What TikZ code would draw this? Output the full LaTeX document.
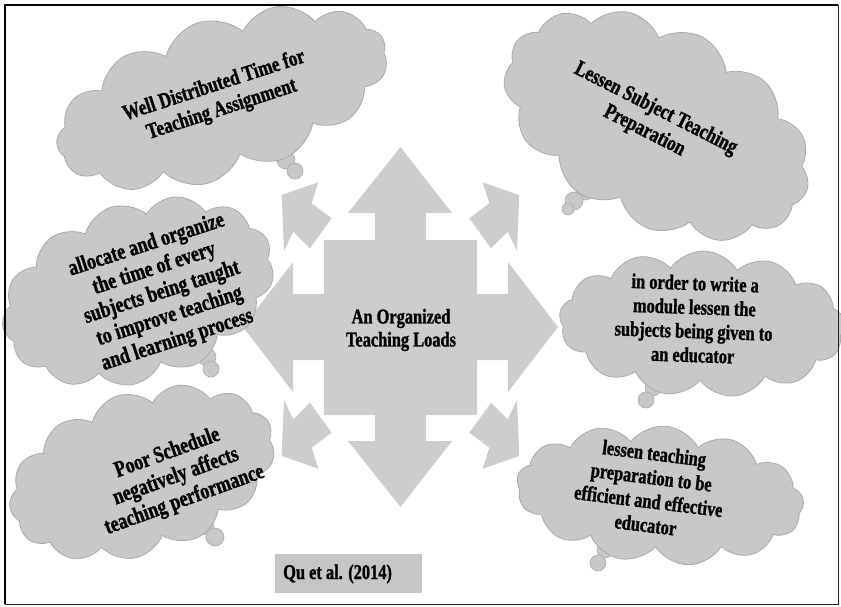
\documentclass[tikz,border=0pt]{standalone}
\usepackage{fontspec}
\newfontfamily\boldnarrow{Liberation Serif Bold}[FakeStretch=0.78, FakeBold=1.2]
\usetikzlibrary{shapes.symbols}
\definecolor{cloudfill}{HTML}{C8C8C8}
\definecolor{cloudedge}{HTML}{AAAAAA}
\definecolor{arrowfill}{HTML}{CDCDCD}
\definecolor{boxfill}{HTML}{C6C6C6}
\begin{document}
\begin{tikzpicture}[x=1pt,y=-1pt,
  bubble/.style={cloud, cloud puffs=13, cloud puff arc=115, cloud ignores aspect,
    fill=cloudfill, draw=cloudedge, line width=0.8pt, inner sep=0pt},
  bubbletext/.style={align=center, inner sep=0pt,
    font=\boldnarrow\fontsize{21}{24}\selectfont},
  puff/.style={fill=cloudfill, draw=cloudedge, line width=0.6pt}]
\useasboundingbox (0,0) rectangle (841,607);

% central quad arrow with the square hub
\fill[arrowfill] (400.5,147) -- (452,213) -- (426,213) -- (426,240) -- (477,240)
  -- (477,294) -- (508,294) -- (508,262) -- (558,327) -- (508,392) -- (508,360)
  -- (477,360) -- (477,415) -- (426,415) -- (426,441) -- (452,441) -- (400.5,507)
  -- (348,441) -- (375,441) -- (375,415) -- (324,415) -- (324,360) -- (293,360)
  -- (293,392) -- (243,327) -- (293,262) -- (293,294) -- (324,294) -- (324,240)
  -- (375,240) -- (375,213) -- (348,213) -- cycle;

% four diagonal arrows
\foreach \sx/\sy in {1/1,-1/1,1/-1,-1/-1}{
  \begin{scope}[shift={(400.5,325.5)}, xscale=\sx, yscale=\sy]
    \fill[arrowfill] (-118.8,-130.5) -- (-82.2,-143.2) -- (-88.8,-122.2)
      -- (-68.8,-107.2) -- (-90.5,-77.2) -- (-107.2,-93.8) -- (-116.5,-74.5) -- cycle;
  \end{scope}
}

\node[font=\boldnarrow\fontsize{21}{23}\selectfont, align=center] (hub) at (401,330)
  {An Organized\\Teaching Loads};

% thought-bubble tails
\draw[puff] (286,160) circle[radius=9];
\draw[puff] (295,171) circle[radius=8];
\draw[puff] (585,191) circle[radius=9];
\draw[puff] (574,201) circle[radius=9];
\draw[puff] (568,209) circle[radius=6];
\draw[puff] (207,357) circle[radius=9];
\draw[puff] (211,369) circle[radius=8];
\draw[puff] (653,388) circle[radius=8];
\draw[puff] (646,400) circle[radius=8];
\draw[puff] (206,527) circle[radius=8];
\draw[puff] (215,537) circle[radius=9];
\draw[puff] (605,550) circle[radius=8];
\draw[puff] (598,563) circle[radius=8];

% clouds
\node[bubble, minimum width=344pt, minimum height=158pt, rotate=18] (c1) at (222,98) {};
\node[bubble, minimum width=328pt, minimum height=198pt, rotate=-27] (c2) at (657,125) {};
\node[bubble, minimum width=280pt, minimum height=178pt, rotate=18] (c3) at (138,292) {};
\node[bubble, minimum width=286pt, minimum height=146pt, rotate=-2] (c4) at (702,324) {};
\node[bubble, minimum width=274pt, minimum height=162pt, rotate=18] (c5) at (142,473) {};
\node[bubble, minimum width=288pt, minimum height=138pt, rotate=-5] (c6) at (660,495) {};

% cloud texts
\node[bubbletext, font=\boldnarrow\fontsize{22}{25}\selectfont, rotate=18] (t1) at (218,98)
  {Well Distributed Time for\\Teaching Assignment};
\node[bubbletext, font=\boldnarrow\fontsize{22}{25}\selectfont, rotate=-27] (t2) at (650,120)
  {Lessen Subject Teaching\\Preparation};
\node[bubbletext, font=\boldnarrow\fontsize{23}{25}\selectfont, rotate=18] (t3) at (162,293)
  {allocate and organize\\the time of every\\subjects being taught\\to improve teaching\\and learning process};
\node[bubbletext, rotate=-2] (t4) at (694,319)
  {in order to write a\\module lessen the\\subjects being given to\\an educator};
\node[bubbletext, font=\boldnarrow\fontsize{23}{25}\selectfont, rotate=20] (t5) at (176,477)
  {Poor Schedule\\negatively affects\\teaching performance};
\node[bubbletext, rotate=-7] (t6) at (650,489)
  {lessen teaching\\preparation to be\\efficient and effective\\educator};

% citation
\fill[boxfill] (275,554) rectangle (422,593);
\node[anchor=west, inner sep=0pt, font=\boldnarrow\fontsize{21}{24}\selectfont] (cite) at (283,574)
  {Qu et al. (2014)};

% frame
\draw[black!85, line width=1pt] (838,5) -- (838,604) -- (5,604);
\draw[black, line width=2pt] (5,604) -- (5,5) -- (838,5);
\end{tikzpicture}
\end{document}
